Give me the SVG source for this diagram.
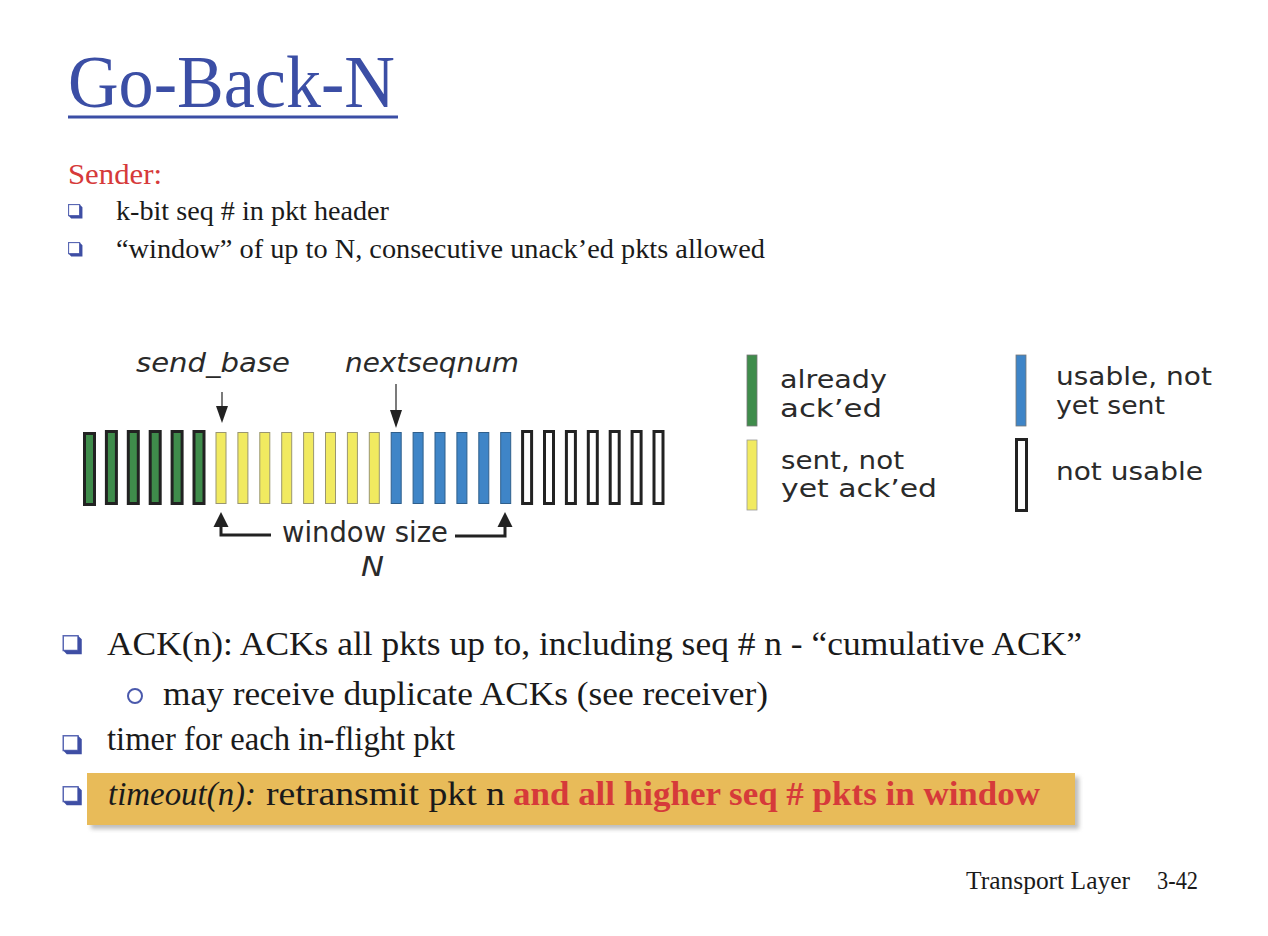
<svg xmlns="http://www.w3.org/2000/svg" xmlns:xlink="http://www.w3.org/1999/xlink" width="1268" height="936" viewBox="0 0 1268 936">
<style>
.serif{font-family:"Liberation Serif","Times New Roman",serif;fill:#1a1a1a}
.goth{font-family:"DejaVu Sans","Liberation Sans",sans-serif;fill:#2a2a2a}
.g{fill:#3f8c4b;stroke:#222;stroke-width:3}
.y{fill:#f1ea60;stroke:#9a9670;stroke-width:1}
.b{fill:#3f85c7;stroke:#2f5f8c;stroke-width:1}
.w{fill:#fff;stroke:#222;stroke-width:3}
.thin{stroke:#333;stroke-width:1.3;fill:none}
.thick{stroke:#222;stroke-width:3;fill:none}
.head{fill:#222}
.red{fill:#d63a3a}
</style>
<defs>
<symbol id="sq" viewBox="0 0 16 16">
<rect x="0.6" y="0.6" width="11.8" height="11.8" fill="#fff" stroke="#5a68b4" stroke-width="1.2"/>
<polygon points="12.4,0.6 15.4,3.4 15.4,15.4 3.4,15.4 0.6,12.4 12.4,12.4" fill="#3e4ea4"/>
</symbol>
<filter id="blur" x="-5%" y="-30%" width="110%" height="160%"><feGaussianBlur stdDeviation="2"/></filter>
</defs>
<rect width="1268" height="936" fill="#fff"/>

<g id="title">
<text x="68" y="107" font-size="74" textLength="327" lengthAdjust="spacingAndGlyphs" font-family="Liberation Serif, Times New Roman, serif" fill="#3b4ea5">Go-Back-N</text>
<rect x="68" y="115.5" width="330" height="3" fill="#3b4ea5"/>
</g>

<g id="sender">
<text class="serif" x="68" y="184" font-size="30" textLength="94" lengthAdjust="spacingAndGlyphs" style="fill:#d63a3a">Sender:</text>
<use href="#sq" x="68" y="204" width="15" height="15"/>
<text class="serif" x="116" y="220" font-size="28" textLength="273" lengthAdjust="spacingAndGlyphs">k-bit seq # in pkt header</text>
<use href="#sq" x="68" y="242" width="15" height="15"/>
<text class="serif" x="116" y="258" font-size="28" textLength="649" lengthAdjust="spacingAndGlyphs">“window” of up to N, consecutive unack’ed pkts allowed</text>
</g>

<g id="window-bars">
<rect class="g" x="84.5" y="433.5" width="10" height="71"/>
<rect class="g" x="106.4" y="431.5" width="10" height="72"/>
<rect class="g" x="128.3" y="431.5" width="10" height="72"/>
<rect class="g" x="150.2" y="431.5" width="10" height="72"/>
<rect class="g" x="172.1" y="431.5" width="10" height="72"/>
<rect class="g" x="194" y="431.5" width="10" height="72"/>
<rect class="y" x="216" y="432.5" width="10" height="71"/>
<rect class="y" x="237.9" y="432.5" width="10" height="71"/>
<rect class="y" x="259.8" y="432.5" width="10" height="71"/>
<rect class="y" x="281.7" y="432.5" width="10" height="71"/>
<rect class="y" x="303.6" y="432.5" width="10" height="71"/>
<rect class="y" x="325.5" y="432.5" width="10" height="71"/>
<rect class="y" x="347.4" y="432.5" width="10" height="71"/>
<rect class="y" x="369.3" y="432.5" width="10" height="71"/>
<rect class="b" x="391.2" y="432.5" width="10" height="71"/>
<rect class="b" x="413.1" y="432.5" width="10" height="71"/>
<rect class="b" x="435" y="432.5" width="10" height="71"/>
<rect class="b" x="456.9" y="432.5" width="10" height="71"/>
<rect class="b" x="478.8" y="432.5" width="10" height="71"/>
<rect class="b" x="500.7" y="432.5" width="10" height="71"/>
<rect class="w" x="522.6" y="431.5" width="9" height="72"/>
<rect class="w" x="544.5" y="431.5" width="9" height="72"/>
<rect class="w" x="566.4" y="431.5" width="9" height="72"/>
<rect class="w" x="588.3" y="431.5" width="9" height="72"/>
<rect class="w" x="610.2" y="431.5" width="9" height="72"/>
<rect class="w" x="632.1" y="431.5" width="9" height="72"/>
<rect class="w" x="654" y="431.5" width="9" height="72"/>
</g>

<g id="labels">
<text class="goth" x="136" y="372" font-size="27" font-style="italic" textLength="154" lengthAdjust="spacingAndGlyphs">send_base</text>
<text class="goth" x="345" y="372" font-size="27" font-style="italic" textLength="174" lengthAdjust="spacingAndGlyphs">nextseqnum</text>
<text class="goth" x="282" y="542" font-size="28" textLength="166" lengthAdjust="spacingAndGlyphs">window size</text>
<text class="goth" x="361" y="576" font-size="26" font-style="italic" textLength="23" lengthAdjust="spacingAndGlyphs">N</text>
</g>

<g id="connectors">
<line class="thin" x1="222" y1="392" x2="222" y2="410"/>
<polygon class="head" points="216,406 228,406 222,423"/>
<line class="thin" x1="396" y1="384" x2="396" y2="412"/>
<polygon class="head" points="390,410 402,410 396,428"/>
<path class="thick" d="M271,535 H221 V524"/>
<polygon class="head" points="213.5,527 228.5,527 221,512"/>
<path class="thick" d="M455,536 H505 V524"/>
<polygon class="head" points="497.5,527 512.5,527 505,512"/>
</g>

<g id="legend">
<rect x="747" y="355" width="10" height="71" fill="#3f8c4b" stroke="#777" stroke-width="0.8"/>
<text class="goth" x="780" y="388" font-size="25" textLength="107" lengthAdjust="spacingAndGlyphs">already</text>
<text class="goth" x="780" y="417" font-size="25" textLength="102" lengthAdjust="spacingAndGlyphs">ack’ed</text>
<rect x="747" y="440" width="10" height="70" fill="#f1ea60" stroke="#999" stroke-width="0.8"/>
<text class="goth" x="781" y="469" font-size="25" textLength="123" lengthAdjust="spacingAndGlyphs">sent, not</text>
<text class="goth" x="781" y="497" font-size="25" textLength="156" lengthAdjust="spacingAndGlyphs">yet ack’ed</text>
<rect x="1016" y="355" width="10" height="71" fill="#3f85c7" stroke="#777" stroke-width="0.8"/>
<text class="goth" x="1056" y="385" font-size="25" textLength="156" lengthAdjust="spacingAndGlyphs">usable, not</text>
<text class="goth" x="1056" y="414" font-size="25" textLength="109" lengthAdjust="spacingAndGlyphs">yet sent</text>
<rect x="1016.5" y="439.5" width="10" height="71" fill="#fff" stroke="#222" stroke-width="3"/>
<text class="goth" x="1056" y="480" font-size="25" textLength="147" lengthAdjust="spacingAndGlyphs">not usable</text>
</g>

<g id="bullets">
<use href="#sq" x="62" y="635" width="21" height="20"/>
<text class="serif" x="107" y="655" font-size="34" textLength="975" lengthAdjust="spacingAndGlyphs">ACK(n): ACKs all pkts up to, including seq # n - “cumulative ACK”</text>
<circle cx="135" cy="696" r="7" fill="none" stroke="#4a59ac" stroke-width="2"/>
<text class="serif" x="163" y="705" font-size="34" textLength="605" lengthAdjust="spacingAndGlyphs">may receive duplicate ACKs (see receiver)</text>
<use href="#sq" x="62" y="735" width="21" height="20"/>
<text class="serif" x="107" y="750" font-size="34" textLength="348" lengthAdjust="spacingAndGlyphs">timer for each in-flight pkt</text>
</g>

<g id="highlight">
<rect x="91" y="777" width="988" height="52" fill="#888" opacity="0.55" filter="url(#blur)"/>
<rect x="87" y="773" width="988" height="52" fill="#e8bb59"/>
<use href="#sq" x="62" y="786" width="21" height="20"/>
<text class="serif" x="108" y="805" font-size="34" font-style="italic" textLength="148" lengthAdjust="spacingAndGlyphs">timeout(n):</text>
<text class="serif" x="266" y="805" font-size="34" textLength="239" lengthAdjust="spacingAndGlyphs">retransmit pkt n</text>
<text class="serif red" x="513" y="805" font-size="34" font-weight="bold" textLength="527" lengthAdjust="spacingAndGlyphs" style="fill:#d63a3a">and all higher seq # pkts in window</text>
</g>

<g id="footer">
<text class="serif" x="966" y="889" font-size="25" textLength="164" lengthAdjust="spacingAndGlyphs">Transport Layer</text>
<text class="serif" x="1157" y="889" font-size="25" textLength="41" lengthAdjust="spacingAndGlyphs">3-42</text>
</g>
</svg>
